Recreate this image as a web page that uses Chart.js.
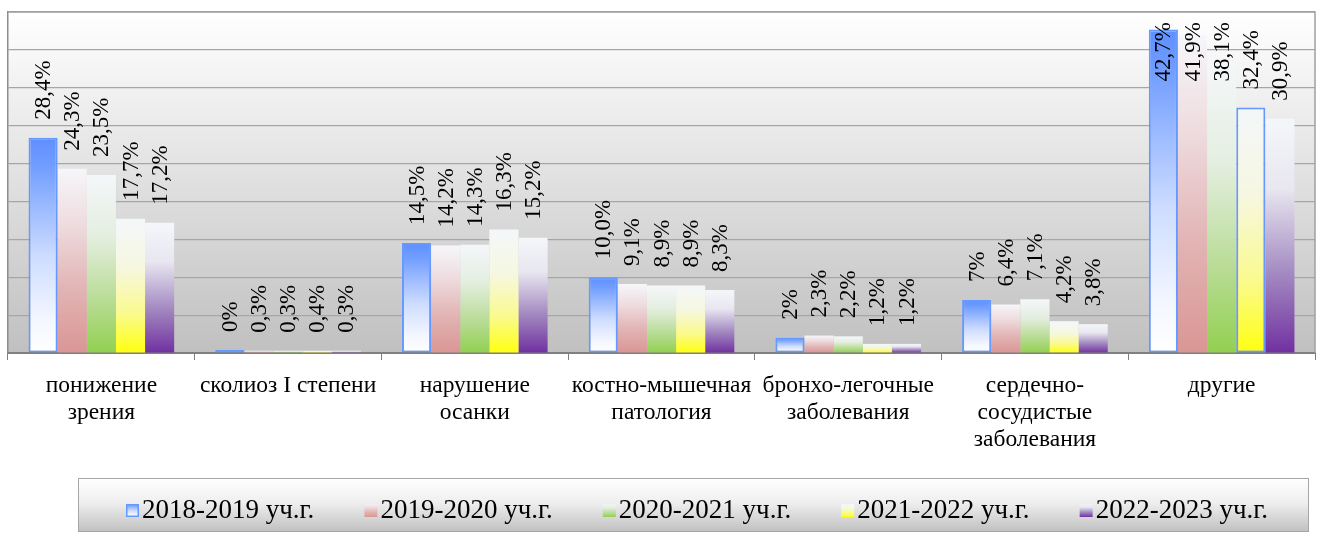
<!DOCTYPE html>
<html><head><meta charset="utf-8">
<script src="https://cdn.jsdelivr.net/npm/chart.js@4.4.0/dist/chart.umd.min.js"></script>
<style>html,body{margin:0;padding:0;background:#fff;}#wrap{width:1319px;height:534px;position:relative;}</style>
</head><body><div id="wrap"><canvas id="c"></canvas></div>
<script>
const categories = [["понижение","зрения"],"сколиоз I степени",["нарушение","осанки"],["костно-мышечная","патология"],["бронхо-легочные","заболевания"],["сердечно-","сосудистые","заболевания"],"другие"];
const seriesNames = ["2018-2019 уч.г.","2019-2020 уч.г.","2020-2021 уч.г.","2021-2022 уч.г.","2022-2023 уч.г."];
const values2018 = [28.4, 0.4, 14.5, 10.0, 2.0, 7.0, 42.7];
const values2019 = [24.3, 0.3, 14.2, 9.1, 2.3, 6.4, 41.9];
const values2020 = [23.5, 0.3, 14.3, 8.9, 2.2, 7.1, 38.1];
const values2021 = [17.7, 0.3, 16.3, 8.9, 1.2, 4.2, 32.4];
const values2022 = [17.2, 0.3, 15.2, 8.3, 1.2, 3.8, 30.9];
const labels2018 = ["28,4%","0%","14,5%","10,0%","2%","7%","42,7%"];
const labels2019 = ["24,3%","0,3%","14,2%","9,1%","2,3%","6,4%","41,9%"];
const labels2020 = ["23,5%","0,3%","14,3%","8,9%","2,2%","7,1%","38,1%"];
const labels2021 = ["17,7%","0,4%","16,3%","8,9%","1,2%","4,2%","32,4%"];
const labels2022 = ["17,2%","0,3%","15,2%","8,3%","1,2%","3,8%","30,9%"];
const yTicks = {min:0, max:45, step:5};

const FONT = '"Liberation Serif", "Times New Roman", serif';

const gradStops = [
  [[0,'#5f8fff'],[0.12,'#6f9cff'],[0.55,'#cddcff'],[0.85,'#f4f7ff'],[1,'#ffffff']],
  [[0,'#f6f6fa'],[0.3,'#eedcdf'],[0.65,'#e2b4b4'],[1,'#d99694']],
  [[0,'#f4f7fa'],[0.35,'#e3eedf'],[0.7,'#b9dc96'],[1,'#92d050']],
  [[0,'#f4f7fa'],[0.35,'#f6f7e2'],[0.7,'#fafa90'],[1,'#ffff10']],
  [[0,'#f4f7fa'],[0.3,'#e8e6f0'],[0.65,'#a58cc2'],[1,'#7030a0']]
];

function barGradient(stops){
  return function(ctx){
    const chart = ctx.chart;
    if(!chart.chartArea || ctx.type !== 'data') return stops[stops.length-1][1];
    const ys = chart.scales.y;
    const top = ys.getPixelForValue(ctx.raw), bot = ys.getPixelForValue(0);
    const g = chart.ctx.createLinearGradient(0, top, 0, Math.max(bot, top+1));
    stops.forEach(s=>g.addColorStop(s[0], s[1]));
    return g;
  };
}

const allValues = [values2018, values2019, values2020, values2021, values2022];
const allLabels = [labels2018, labels2019, labels2020, labels2021, labels2022];

const datasets = allValues.map((vals, k)=>({
  label: seriesNames[k],
  data: vals,
  valueLabels: allLabels[k],
  backgroundColor: barGradient(gradStops[k]),
  borderColor: (c)=> (k===0 || (k===3 && c.dataIndex===6)) ? '#6699ff' : 'rgba(0,0,0,0)',
  borderWidth: (c)=> (k===0 || (k===3 && c.dataIndex===6)) ? 2 : 0,
  borderSkipped: false,
  barPercentage: 1.0,
  categoryPercentage: 0.78
}));

const bgPlugin = {
  id:'bg',
  beforeDraw(chart){
    const {ctx, chartArea:a} = chart;
    ctx.save();
    const g = ctx.createLinearGradient(0,a.top,0,a.bottom);
    g.addColorStop(0,'#ffffff'); g.addColorStop(0.5,'#e0e0e0'); g.addColorStop(1,'#c0c0c0');
    ctx.fillStyle = g;
    ctx.fillRect(a.left, a.top, a.right-a.left, a.bottom-a.top);
    ctx.restore();
  },
  beforeDatasetsDraw(chart){
    const {ctx, chartArea:a} = chart;
    ctx.save();
    ctx.strokeStyle = '#a0a0a0'; ctx.lineWidth = 1.5;
    ctx.beginPath();
    ctx.moveTo(a.left, a.top); ctx.lineTo(a.right, a.top); ctx.lineTo(a.right, a.bottom);
    ctx.stroke();
    ctx.restore();
  }
};

const labelPlugin = {
  id:'dl',
  afterDatasetsDraw(chart){
    const ctx = chart.ctx, top = chart.chartArea.top;
    ctx.save();
    ctx.font = '23px ' + FONT;
    ctx.fillStyle = '#000';
    ctx.textBaseline = 'middle'; ctx.textAlign = 'left';
    chart.data.datasets.forEach((ds, di)=>{
      const meta = chart.getDatasetMeta(di);
      meta.data.forEach((bar, i)=>{
        const txt = ds.valueLabels[i];
        const w = ctx.measureText(txt).width;
        let start = bar.y - 18;
        if(start - w < top + 10) start = top + 10 + w;
        ctx.save();
        ctx.translate(bar.x + 1, start);
        ctx.rotate(-Math.PI/2);
        ctx.fillText(txt, 0, 0);
        ctx.restore();
      });
    });
    ctx.restore();
  }
};

const legendPlugin = {
  id:'legendBox',
  afterDraw(chart){
    const ctx = chart.ctx;
    const box = {x:78, y:478, w:1231, h:54};
    ctx.save();
    const g = ctx.createLinearGradient(0, box.y, 0, box.y+box.h);
    g.addColorStop(0,'#ffffff'); g.addColorStop(0.45,'#efefef'); g.addColorStop(1,'#c0c0c0');
    ctx.fillStyle = g;
    ctx.fillRect(box.x, box.y, box.w, box.h);
    ctx.strokeStyle = '#a6a6a6'; ctx.lineWidth = 1;
    ctx.strokeRect(box.x+0.5, box.y+0.5, box.w-1, box.h-1);
    ctx.font = '27px ' + FONT;
    ctx.textBaseline = 'middle'; ctx.textAlign = 'left'; ctx.fillStyle = '#000';
    const sw = 13, gapT = 3;
    const widths = chart.data.datasets.map(d=>ctx.measureText(d.label).width);
    const span = 1142;
    const gapI = (span - widths.reduce((s,w)=>s+sw+gapT+w,0)) / (widths.length-1);
    let x = 126;
    const cy = 510;
    chart.data.datasets.forEach((d,k)=>{
      const sg = ctx.createLinearGradient(0, cy-7, 0, cy+7);
      gradStops[k].forEach(s=>sg.addColorStop(s[0], s[1]));
      ctx.fillStyle = sg;
      ctx.fillRect(x, cy-6, sw, sw);
      if(k===0){ ctx.strokeStyle='#6699ff'; ctx.lineWidth=1.5; ctx.strokeRect(x+0.75, cy-5.25, sw-1.5, sw-1.5); }
      ctx.fillStyle = '#000';
      ctx.fillText(d.label, x+sw+gapT, cy+1);
      x += sw+gapT+widths[k]+gapI;
    });
    ctx.restore();
  }
};

new Chart(document.getElementById('c'), {
  type:'bar',
  data:{labels:categories, datasets},
  options:{
    responsive:true, maintainAspectRatio:false, animation:false,
    layout:{padding:{left:8, right:4, top:12, bottom:0}},
    plugins:{legend:{display:false}, tooltip:{enabled:false}},
    scales:{
      x:{
        grid:{display:true, drawOnChartArea:false, drawTicks:true, tickLength:7, color:'#7f7f7f', offset:true, lineWidth:1},
        border:{display:true, color:'#7f7f7f', width:2},
        ticks:{font:{family:FONT, size:23.5, lineHeight:1.13}, color:'#000', padding:13, maxRotation:0, autoSkip:false},
        afterFit(axis){ axis.height = 181; }
      },
      y:{
        min:yTicks.min, max:yTicks.max,
        ticks:{stepSize:yTicks.step, display:false},
        grid:{color:'#a6a6a6', drawTicks:false, lineWidth:1.2},
        border:{display:true, color:'#8c8c8c', width:1.5},
        afterFit(axis){ axis.width = 0; }
      }
    }
  },
  plugins:[bgPlugin, labelPlugin, legendPlugin]
});
</script></body></html>
